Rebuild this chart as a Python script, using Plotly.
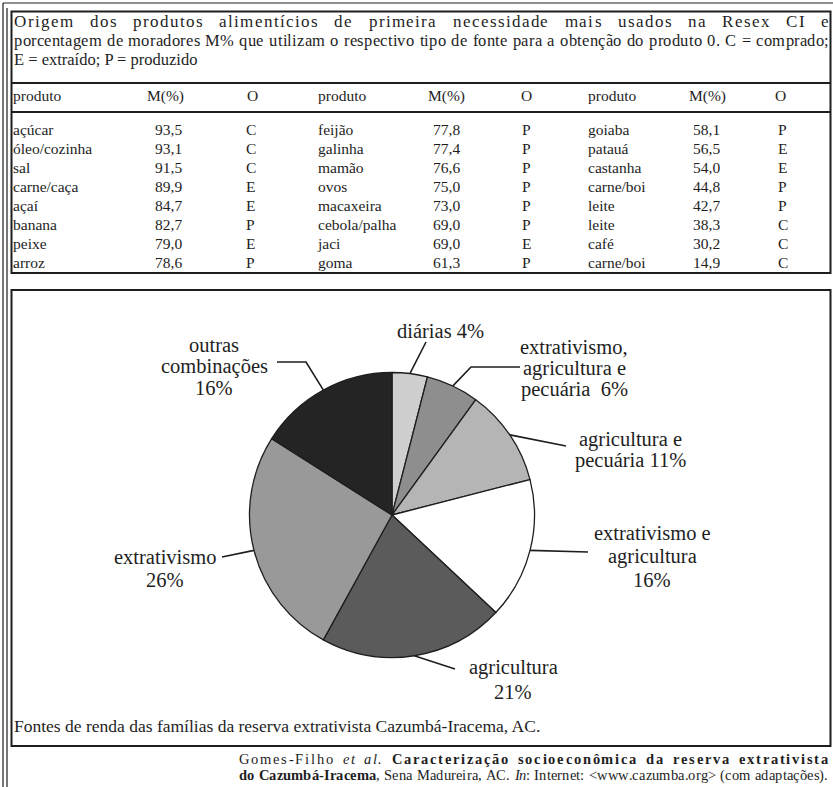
import math
import unicodedata
import plotly.graph_objects as go

W, H = 833, 787
FONT = "Liberation Serif"
INK = "#1e1e1e"

# ---------------- data ----------------
caption_lines = [
    "Origem dos produtos alimentícios de primeira necessidade mais usados  na Resex CI e",
    "porcentagem de moradores M% que utilizam o respectivo tipo de fonte para a obtenção do produto 0. C = comprado;",
    "E = extraído; P = produzido",
]
header = ["produto", "M(%)", "O"]

products_1 = ["açúcar", "óleo/cozinha", "sal", "carne/caça", "açaí", "banana", "peixe", "arroz"]
m_1 = ["93,5", "93,1", "91,5", "89,9", "84,7", "82,7", "79,0", "78,6"]
o_1 = ["C", "C", "C", "E", "E", "P", "E", "P"]

products_2 = ["feijão", "galinha", "mamão", "ovos", "macaxeira", "cebola/palha", "jaci", "goma"]
m_2 = ["77,8", "77,4", "76,6", "75,0", "73,0", "69,0", "69,0", "61,3"]
o_2 = ["P", "P", "P", "P", "P", "P", "E", "P"]

products_3 = ["goiaba", "patauá", "castanha", "carne/boi", "leite", "leite", "café", "carne/boi"]
m_3 = ["58,1", "56,5", "54,0", "44,8", "42,7", "38,3", "30,2", "14,9"]
o_3 = ["P", "E", "E", "P", "P", "C", "C", "C"]

pie_labels = ["diárias", "extrativismo, agricultura e pecuária", "agricultura e pecuária",
              "extrativismo e agricultura", "agricultura", "extrativismo", "outras combinações"]
pie_values = [4, 6, 11, 16, 21, 26, 16]
pie_label_lines = [
    ["diárias 4%"],
    ["extrativismo,", "agricultura e", "pecuária  6%"],
    ["agricultura e", "pecuária 11%"],
    ["extrativismo e", "agricultura", "16%"],
    ["agricultura", "21%"],
    ["extrativismo", "26%"],
    ["outras", "combinações", "16%"],
]
pie_caption = "Fontes de renda das famílias da reserva extrativista Cazumbá-Iracema, AC."
# citation words: (text, style)  style: "" regular, "i" italic, "b" bold
citation_words = [
    [("Gomes-Filho", ""), ("et", "i"), ("al.", "i"), ("Caracterização", "b"), ("socioeconômica", "b"),
     ("da", "b"), ("reserva", "b"), ("extrativista", "b")],
    [("do", "b"), ("Cazumbá-Iracema", "b"), (",", ""), ("Sena", ""), ("Madureira,", ""), ("AC.", ""),
     ("In", "i"), (":", ""), ("Internet:", ""), ("<www.cazumba.org>", ""), ("(com", ""), ("adaptações).", "")],
]
# words glued to the previous one (no space before)
citation_glued = [set(), {2, 7}]

# ---------------- styles / layout constants ----------------
pie_colors = ["#cfcfcf", "#8e8e8e", "#b5b5b5", "#ffffff", "#5b5b5b", "#999999", "#242424"]
PIE_CX, PIE_CY, PIE_R = 392, 515, 142.5

label_pos = [
    (440, 331, 21),
    (574, 347, 21),
    (630, 439, 21),
    (652, 533, 23.5),
    (513, 667, 25),
    (165, 557, 23),
    (214, 345, 21.5),
]
leader_outer = [
    [(426, 342)],
    [(520, 367), (471, 367)],
    [(566, 446)],
    [(588, 552)],
    [(455, 669)],
    [(222, 557)],
    [(277, 362), (306, 362)],
]

# approximate Times/Liberation Serif advance widths (em)
_TW = {
    'a': .444, 'b': .5, 'c': .444, 'd': .5, 'e': .444, 'f': .333, 'g': .5, 'h': .5, 'i': .278, 'j': .278,
    'k': .5, 'l': .278, 'm': .778, 'n': .5, 'o': .5, 'p': .5, 'q': .5, 'r': .333, 's': .389, 't': .278,
    'u': .5, 'v': .5, 'w': .722, 'x': .5, 'y': .5, 'z': .444,
    'A': .722, 'B': .667, 'C': .667, 'D': .722, 'E': .611, 'F': .556, 'G': .722, 'H': .722, 'I': .333,
    'J': .389, 'K': .722, 'L': .611, 'M': .889, 'N': .722, 'O': .722, 'P': .556, 'Q': .722, 'R': .667,
    'S': .556, 'T': .611, 'U': .722, 'V': .722, 'W': .944, 'X': .722, 'Y': .722, 'Z': .611,
    ' ': .25, '.': .25, ',': .25, ';': .278, ':': .278, '=': .564, '%': .833, '(': .333, ')': .333,
    '/': .278, '<': .564, '>': .564, '-': .333, '0': .5,
}
_TWB = {
    'a': .5, 'b': .556, 'c': .444, 'd': .556, 'e': .444, 'i': .278, 'l': .278, 'm': .833, 'n': .556,
    'o': .5, 'r': .444, 's': .389, 't': .333, 'u': .556, 'v': .5, 'x': .5, 'z': .444, 'C': .722,
    'I': .389, '-': .333, ',': .25,
}


def char_width(ch, size, style=""):
    base = unicodedata.normalize("NFD", ch)[0]
    if style == "b":
        return _TWB.get(base, _TW.get(base, 0.5) * 1.05) * size
    return _TW.get(base, 0.5) * size


def esc(s):
    return s.replace("&", "&amp;").replace("<", "&lt;").replace(">", "&gt;")


def styled(s, style):
    s = esc(s)
    if style == "b":
        return f"<b>{s}</b>"
    if style == "i":
        return f"<i>{s}</i>"
    return s


fig = go.Figure()
fig.update_layout(
    width=W, height=H,
    margin=dict(l=0, r=0, t=0, b=0, pad=0),
    paper_bgcolor="white", plot_bgcolor="white",
    font=dict(family=FONT, color=INK),
    showlegend=False,
    xaxis=dict(range=[0, W], visible=False, fixedrange=True, domain=[0, 1]),
    yaxis=dict(range=[H, 0], visible=False, fixedrange=True, domain=[0, 1]),
)

# ---------------- table (text through the pixel axes) ----------------
row_y0, row_step = 131, 19
rows_y = [row_y0 + i * row_step for i in range(len(products_1))]
header_y = 97
header_x = [13, 147, 247, 318, 428, 521, 588, 689, 775]
cell_x = [13, 155, 246, 318, 433, 522, 588, 693, 778]
columns = [products_1, m_1, o_1, products_2, m_2, o_2, products_3, m_3, o_3]

fig.add_trace(go.Scatter(
    x=header_x, y=[header_y] * len(header_x), mode="text",
    text=header * 3, textposition="middle right",
    textfont=dict(family=FONT, size=15.5, color=INK), hoverinfo="skip",
))
for cx, col in zip(cell_x, columns):
    fig.add_trace(go.Scatter(
        x=[cx] * len(col), y=rows_y, mode="text", text=col,
        textposition="middle right",
        textfont=dict(family=FONT, size=15.5, color=INK), hoverinfo="skip",
    ))

# ---------------- pie ----------------
fig.add_trace(go.Pie(
    labels=pie_labels, values=pie_values, sort=False, direction="clockwise",
    rotation=0, textinfo="none", hoverinfo="label+percent",
    marker=dict(colors=pie_colors, line=dict(color=INK, width=1.3)),
    domain=dict(x=[(PIE_CX - PIE_R) / W, (PIE_CX + PIE_R) / W],
                y=[1 - (PIE_CY + PIE_R) / H, 1 - (PIE_CY - PIE_R) / H]),
))

annotations = []
shapes = []


def ann(x, y, text, size, xanchor="center", yanchor="middle"):
    annotations.append(dict(
        x=x, y=y, xref="x", yref="y", text=text, showarrow=False,
        xanchor=xanchor, yanchor=yanchor, align="left" if xanchor == "left" else "center",
        borderpad=0, font=dict(family=FONT, size=size, color=INK),
    ))


def spread(words, x0, x1, y, size, space_weight=3.0, glued=()):
    """Distributed justification: words = list of (text, style); every character
    is placed so that the line runs from x0 to x1 (spaces get more of the extra room)."""
    chars = []
    for k, (w, st) in enumerate(words):
        if k > 0 and k not in glued:
            chars.append((" ", ""))
        for ch in w:
            chars.append((ch, st))
    widths = [char_width(c, size, st) for c, st in chars]
    weights = [space_weight if c == " " else 1.0 for c, _ in chars[:-1]]
    unit = (x1 - x0 - sum(widths)) / sum(weights)
    x = x0
    for k, ((c, st), wd) in enumerate(zip(chars, widths)):
        if c != " ":
            ann(x, y, styled(c, st), size, xanchor="left")
        if k < len(weights):
            x += wd + unit * weights[k]


# pie labels + leader lines
total = sum(pie_values)
cum = 0
for i, v in enumerate(pie_values):
    mid = (cum + v / 2) / total * 2 * math.pi
    cum += v
    ex = PIE_CX + PIE_R * math.sin(mid)
    ey = PIE_CY - PIE_R * math.cos(mid)
    lx, ly, sp = label_pos[i]
    for j, ln in enumerate(pie_label_lines[i]):
        ann(lx, ly + j * sp, ln, 20.5)
    pts = leader_outer[i] + [(ex, ey)]
    path = "M " + " L ".join(f"{px:.1f},{py:.1f}" for px, py in pts)
    shapes.append(dict(type="path", path=path, xref="x", yref="y",
                       line=dict(color=INK, width=1.6)))

# caption text (first two lines justified)
CAP_Y = [21, 40, 59]
spread([(w, "") for w in caption_lines[0].split(" ") if w], 13, 828, CAP_Y[0], 17, space_weight=8.0)
spread([(w, "") for w in caption_lines[1].split(" ")], 13, 828, CAP_Y[1], 16.5, space_weight=4.0)
ann(13, CAP_Y[2], caption_lines[2], 16.5, xanchor="left")

ann(13, 726, pie_caption, 17.5, xanchor="left")
spread(citation_words[0], 238, 827, 759, 14.5, space_weight=2.5, glued=citation_glued[0])
spread(citation_words[1], 238, 827, 775, 14.5, space_weight=4.0, glued=citation_glued[1])


# frames
def line(x0, y0, x1, y1, w=1.2):
    shapes.append(dict(type="line", x0=x0, y0=y0, x1=x1, y1=y1, xref="x", yref="y",
                       line=dict(color=INK, width=w)))


line(3, 3, 833, 3)
line(3, 3, 3, 787)
line(7, 8, 7, 787)
shapes.append(dict(type="rect", x0=11.5, y0=11.5, x1=830.5, y1=273, xref="x", yref="y",
                   line=dict(color=INK, width=2)))
line(11.5, 83, 830.5, 83, 2)
line(11.5, 112, 830.5, 112, 2)
shapes.append(dict(type="rect", x0=11.5, y0=290, x1=830.5, y1=746, xref="x", yref="y",
                   line=dict(color=INK, width=2)))

fig.update_layout(annotations=annotations, shapes=shapes)
fig.write_html("out.html", config={"displayModeBar": False},
               post_script="document.body.style.margin='0px';document.body.style.padding='0px';")
